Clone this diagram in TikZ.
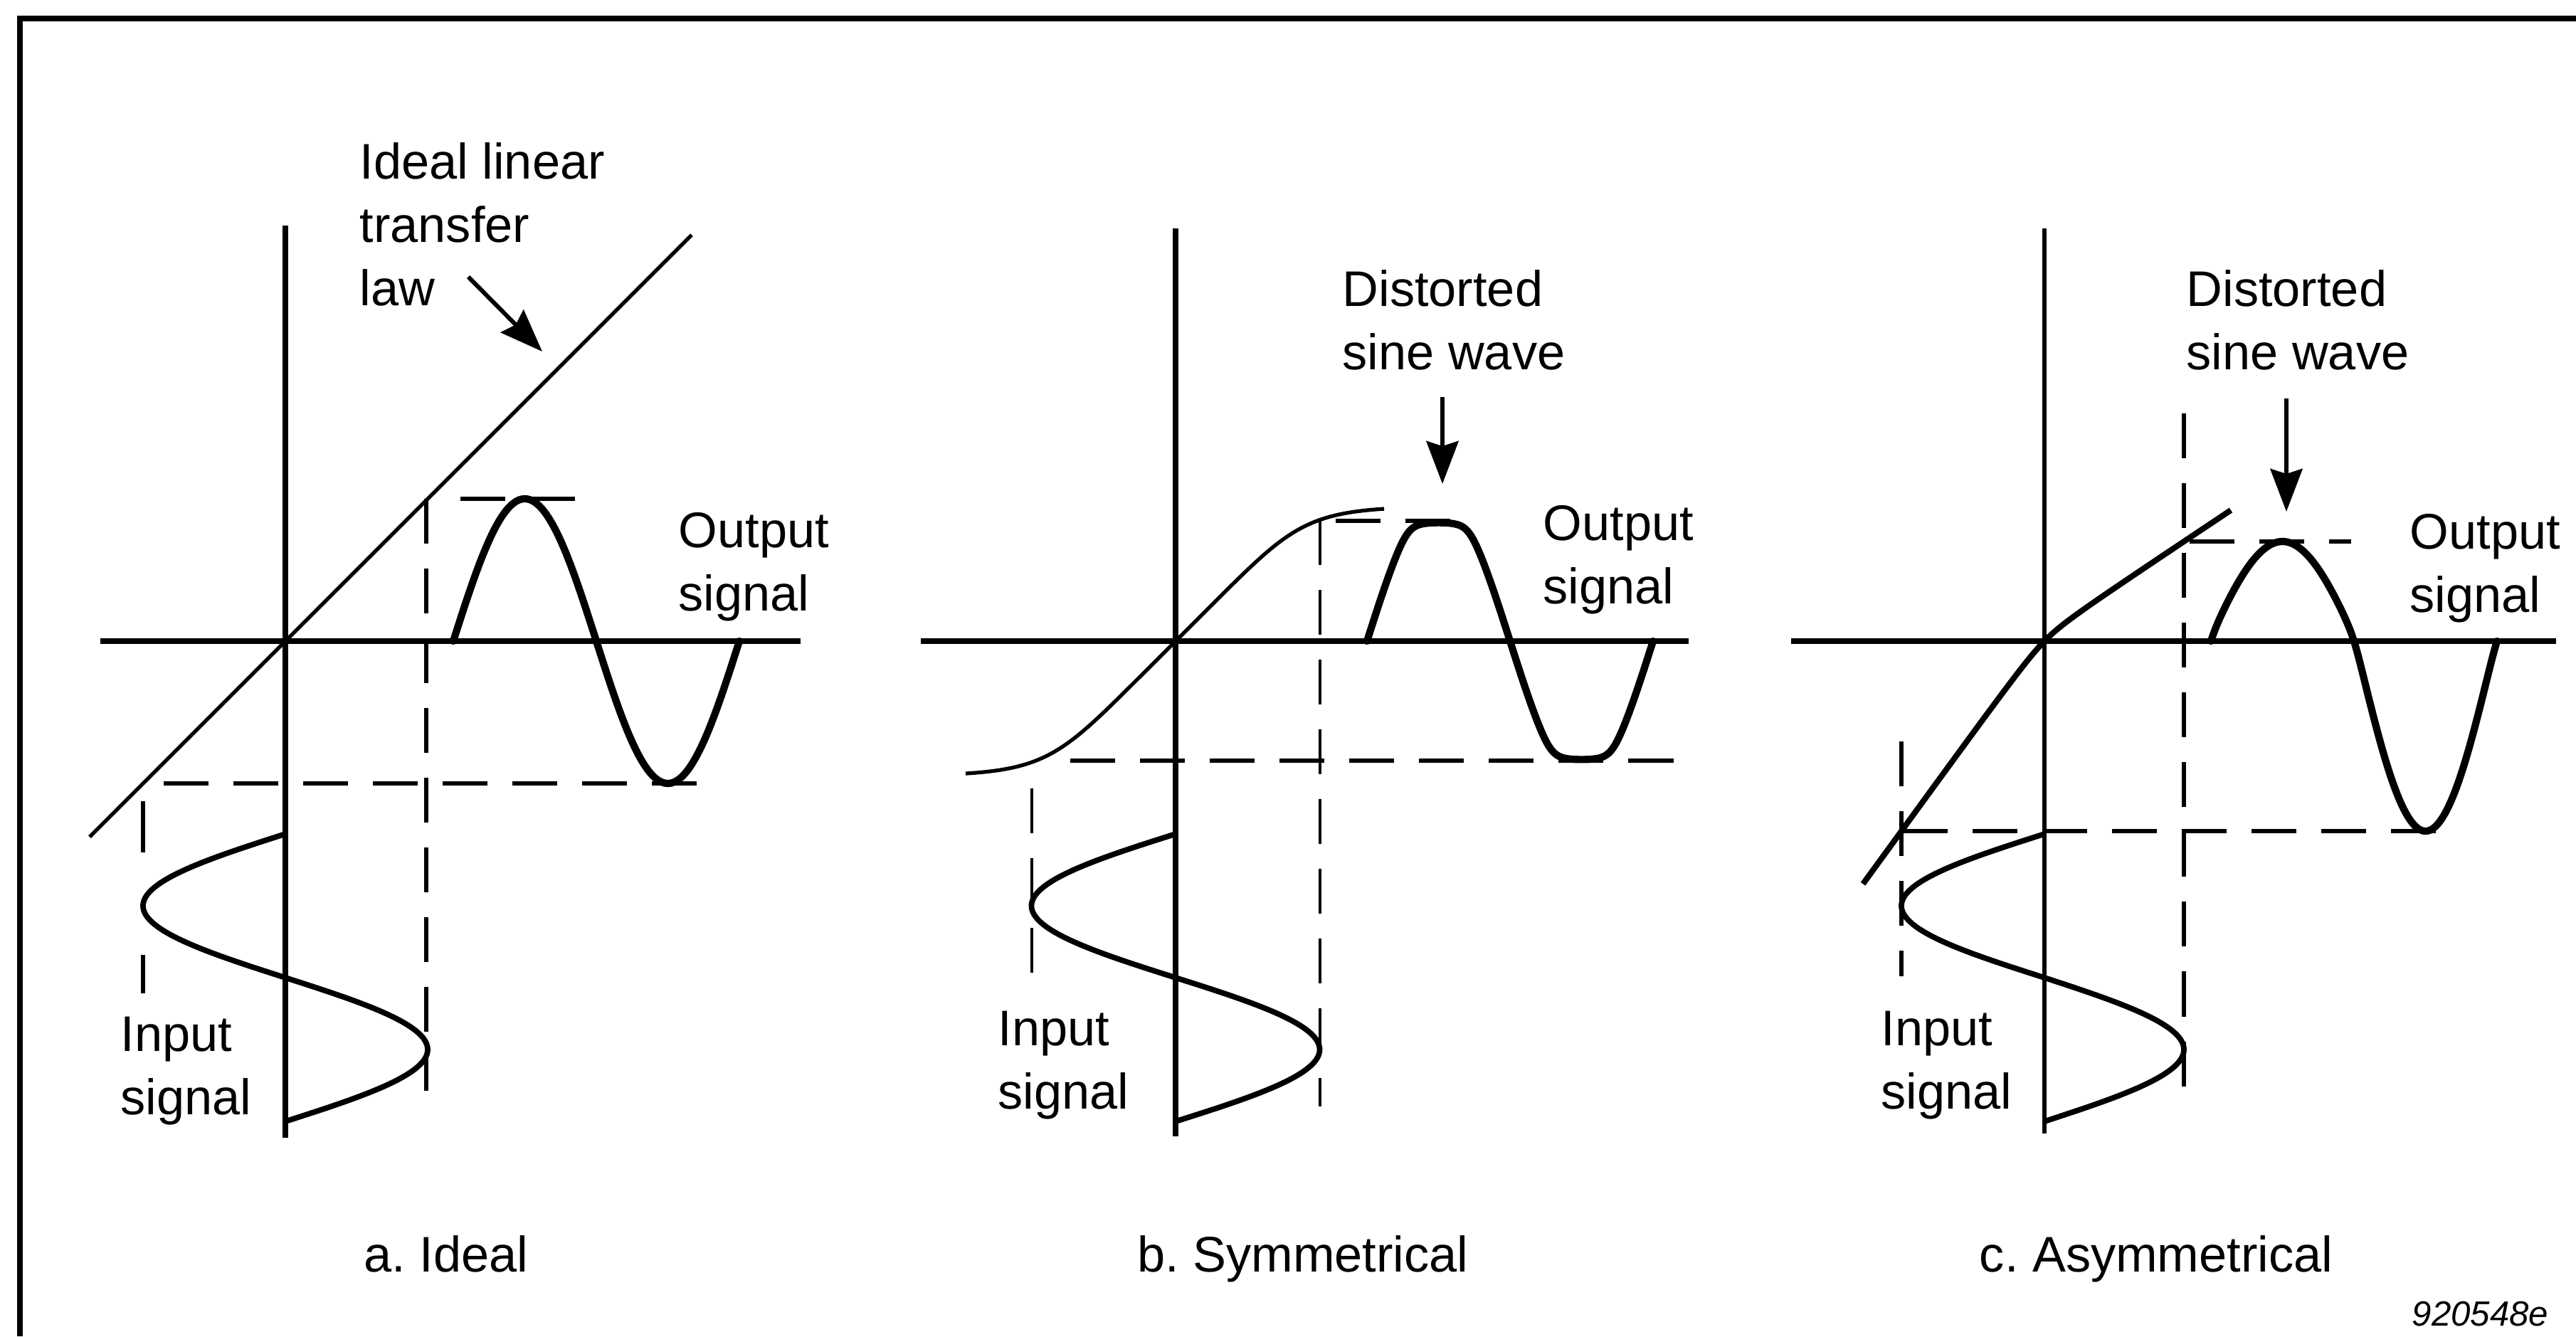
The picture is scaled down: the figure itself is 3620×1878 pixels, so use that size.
\documentclass[tikz,border=0pt]{standalone}
\usepackage{fontspec}
\setmainfont{Liberation Sans}
\usetikzlibrary{arrows.meta}
\frenchspacing
\begin{document}
\begin{tikzpicture}[x=0.01cm, y=-0.01cm,
  declare function={
    Fb(\u) = \u/(1+((abs(\u)+0.01)/190)^5)^(0.2);
    Gb(\u) = \u/(1+((abs(\u)+0.01)/168)^12)^(0.083333);
    Fc(\u) = 1.0208*\u - 35.7*(sqrt((\u/100)*(\u/100)+0.09)-0.3);
    Ain(\s) = (\s>0)*201 + (\s<=0)*196;
    Aout(\s) = (\s>0)*196 + (\s<=0)*201;
  },
  framestyle/.style={line width=2.3pt, line join=miter},
  axisline/.style={line width=2.2pt},
  thinaxis/.style={line width=1.6pt},
  lawline/.style={line width=1.5pt},
  lawcurve/.style={line width=2.3pt, line join=round},
  sigline/.style={line width=2.9pt, line join=round, line cap=round},
  insig/.style={line width=2.2pt, line join=round},
  guide/.style={line width=1.7pt, dash pattern=on 0.63cm off 0.35cm},
  thinguide/.style={line width=1.2pt, dash pattern=on 0.63cm off 0.35cm},
  pointer/.style={line width=1.7pt, -{Stealth[length=0.6cm, width=0.45cm, inset=0.07cm]}},
  lbl/.style={font=\fontsize{20}{25.3}\selectfont, inner sep=0pt, align=left},
  captext/.style={font=\fontsize{20}{24}\selectfont, inner sep=0pt},
]
\useasboundingbox (0,0) rectangle (3620,1878);
\fill[white] (0,0) rectangle (3620,1878);

% frame
\draw[framestyle] (28,1878) -- (28,26) -- (3620,26);

% ================= panel a =================
\coordinate (aL) at (141,901);
\coordinate (aR) at (1125,901);
\coordinate (aT) at (401,317);
\coordinate (aB) at (401,1599);
\draw[axisline] (aL) -- (aR);
\draw[axisline] (aT) -- (aB);
\coordinate (lawS) at (126,1176);
\coordinate (lawE) at (972,330);
\draw[lawline] (lawS) -- (lawE);
% guides
\draw[guide] (599,701) -- (599,1533);
\draw[guide] (647,701) -- (809,701);
\draw[guide] (230,1101) -- (987,1101);
\draw[guide, solid] (201,1126) -- (201,1198);
\draw[guide, solid] (201,1342) -- (201,1396);
% signals
\draw[insig] plot[domain=0:404, samples=201, variable=\t] ({401-200*sin(0.891089*\t)}, {1172+\t});
\draw[sigline] plot[domain=0:402, samples=201, variable=\t] ({637+\t}, {901-200*sin(0.895522*\t)});
% pointer
\coordinate (pa1) at (658,389);
\coordinate (pa2) at (762,494);
\draw[pointer] (pa1) -- (pa2);
% labels (base anchor = baseline of last line)
\node[lbl, anchor=base west] (lawtxt) at (505,429) {Ideal linear\\transfer\\law};
\node[lbl, anchor=base west] (outa) at (953,858) {Output\\signal};
\node[lbl, anchor=base west] (ina) at (169,1566) {Input\\signal};
\node[captext, anchor=base] (capa) at (627,1787) {a. Ideal};

% ================= panel b =================
\coordinate (bL) at (1294,901);
\coordinate (bR) at (2373,901);
\coordinate (bT) at (1652,321);
\coordinate (bB) at (1652,1597);
\draw[axisline] (bL) -- (bR);
\draw[axisline] (bT) -- (bB);
\draw[lawline] plot[domain=-295:293, samples=201, variable=\t] ({1652+\t}, {901-Fb(\t)});
% guides
\draw[thinguide] (1855,731) -- (1855,1555);
\draw[thinguide] (1450,1108) -- (1450,1375);
\draw[guide] (1504,1069) -- (2360,1069);
\draw[guide] (1877,732) -- (2060,732);
% signals
\draw[insig] plot[domain=0:404, samples=201, variable=\t] ({1652-202.5*sin(0.891089*\t)}, {1172+\t});
\draw[sigline] plot[domain=0:402, samples=241, variable=\t] ({1921+\t}, {901-Gb(200*sin(0.895522*\t))});
% pointer
\coordinate (pb1) at (2027,558);
\coordinate (pb2) at (2027,680);
\draw[pointer] (pb1) -- (pb2);
% labels
\node[lbl, anchor=base west] (distb) at (1886,519) {Distorted\\sine wave};
\node[lbl, anchor=base west] (outb) at (2168,848) {Output\\signal};
\node[lbl, anchor=base west] (inb) at (1402,1558) {Input\\signal};
\node[captext, anchor=base] (capb) at (1831,1787) {b. Symmetrical};

% ================= panel c =================
\coordinate (cL) at (2517,901);
\coordinate (cR) at (3592,901);
\coordinate (cT) at (2873,321);
\coordinate (cB) at (2873,1593);
\draw[axisline] (cL) -- (cR);
\draw[thinaxis] (cT) -- (cB);
\draw[lawcurve] plot[domain=-255:262, samples=201, variable=\t] ({2873+\t}, {901-Fc(\t)});
% guides
\draw[guide] (3069,581) -- (3069,1533);
\draw[guide] (2672,1042) -- (2672,1372);
\draw[guide] (2674,1168) -- (3428,1168);
\draw[guide] (3077,761) -- (3304,761);
% signals
\draw[insig] plot[domain=0:404, samples=201, variable=\t] ({2873-Ain(sin(0.891089*\t))*sin(0.891089*\t)}, {1172+\t});
\draw[sigline] plot[domain=0:402, samples=201, variable=\t] ({3107+\t}, {901-Fc(Aout(sin(0.895522*\t))*sin(0.895522*\t))});
% pointer
\coordinate (pc1) at (3213,560);
\coordinate (pc2) at (3213,719);
\draw[pointer] (pc1) -- (pc2);
% labels
\node[lbl, anchor=base west] (distc) at (3072,519) {Distorted\\sine wave};
\node[lbl, anchor=base west] (outc) at (3386,860) {Output\\signal};
\node[lbl, anchor=base west] (inc) at (2643,1558) {Input\\signal};
\node[captext, anchor=base] (capc) at (3030,1787) {c. Asymmetrical};

\node[font=\fontsize{14}{16}\selectfont\itshape, inner sep=0pt, anchor=base east] (figcode) at (3582,1863) {920548e};
\end{tikzpicture}
\end{document}
